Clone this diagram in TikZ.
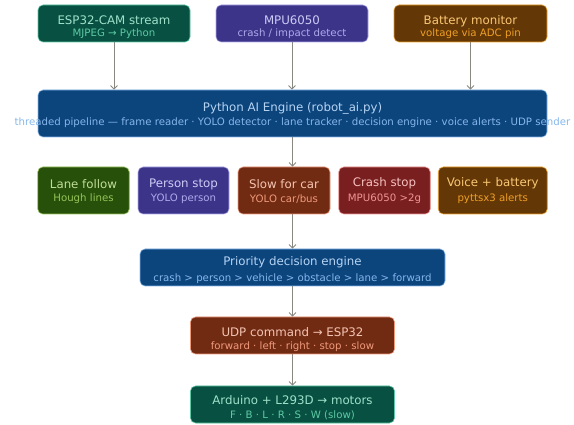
\documentclass[tikz,border=0pt]{standalone}
\usepackage{fontspec}
\setmainfont{DejaVu Sans}
\usetikzlibrary{arrows.meta}

\definecolor{tealfill}{HTML}{085041}
\definecolor{tealline}{HTML}{5DCAA5}
\definecolor{tealtext}{HTML}{9FE1CB}
\definecolor{purplefill}{HTML}{3C3489}
\definecolor{purpleline}{HTML}{AFA9EC}
\definecolor{purpletext}{HTML}{CECBF6}
\definecolor{amberfill}{HTML}{633806}
\definecolor{amberline}{HTML}{EF9F27}
\definecolor{ambertext}{HTML}{FAC775}
\definecolor{bluefill}{HTML}{0C447C}
\definecolor{blueline}{HTML}{85B7EB}
\definecolor{bluetext}{HTML}{B5D4F4}
\definecolor{greenfill}{HTML}{27500A}
\definecolor{greenline}{HTML}{97C459}
\definecolor{greentext}{HTML}{C0DD97}
\definecolor{coralfill}{HTML}{712B13}
\definecolor{coralline}{HTML}{F0997B}
\definecolor{coraltext}{HTML}{F5C4B3}
\definecolor{redfill}{HTML}{791F1F}
\definecolor{redline}{HTML}{F09595}
\definecolor{redtext}{HTML}{F7C1C1}
\definecolor{arrowgray}{HTML}{888780}

\tikzset{
  box/.style={draw, rounded corners=5pt, line width=0.6pt, inner sep=0pt},
  tealbox/.style={box, fill=tealfill, draw=tealline},
  purplebox/.style={box, fill=purplefill, draw=purpleline},
  amberbox/.style={box, fill=amberfill, draw=amberline},
  bluebox/.style={box, fill=bluefill, draw=blueline},
  greenbox/.style={box, fill=greenfill, draw=greenline},
  coralbox/.style={box, fill=coralfill, draw=coralline},
  redbox/.style={box, fill=redfill, draw=redline},
  boxtitle/.style={anchor=base, inner sep=0pt, font=\fontsize{11.8}{14}\selectfont},
  boxsub/.style={anchor=base, inner sep=0pt, font=\fontsize{10.2}{12}\selectfont},
  flow/.style={-{Straight Barb[length=3.5pt,width=7pt]}, draw=arrowgray, line width=0.9pt}
}

\begin{document}
\begin{tikzpicture}[x=1pt, y=-1pt]
\useasboundingbox (0,0) rectangle (574,425);
% inputs
\node [tealbox, minimum width=152pt, minimum height=37pt] (cam) at (114,23.5) {};
\node [boxtitle, text=tealtext] (camtitle) at (114,24.5) {ESP32-CAM stream};
\node [boxsub, text=tealline] (camsub) at (114,36.5) {MJPEG → Python};
\node [purplebox, minimum width=152pt, minimum height=37pt] (mpu) at (292,23.5) {};
\node [boxtitle, text=purpletext] (mputitle) at (292,24.5) {MPU6050};
\node [boxsub, text=purpleline] (mpusub) at (292,36.5) {crash / impact detect};
\node [amberbox, minimum width=153pt, minimum height=37pt] (bat) at (470.5,23.5) {};
\node [boxtitle, text=ambertext] (battitle) at (470.5,24.5) {Battery monitor};
\node [boxsub, text=amberline] (batsub) at (470.5,36.5) {voltage via ADC pin};
% engine
\node [bluebox, minimum width=509pt, minimum height=47pt] (ai) at (292.5,113.5) {};
\node [boxtitle, text=bluetext] (aititle) at (292.5,111.5) {Python AI Engine (robot\_ai.py)};
\node [boxsub, text=blueline] (aisub) at (292.5,126) {threaded pipeline — frame reader · YOLO detector · lane tracker · decision engine · voice alerts · UDP sender};
% behaviours
\node [greenbox, minimum width=91.5pt, minimum height=47pt] (lane) at (83.5,190.5) {};
\node [boxtitle, text=greentext] (lanetitle) at (83.5,188.5) {Lane follow};
\node [boxsub, text=greenline] (lanesub) at (83.5,202) {Hough lines};
\node [purplebox, minimum width=91pt, minimum height=47pt] (person) at (183.5,190.5) {};
\node [boxtitle, text=purpletext] (persontitle) at (183.5,187.5) {Person stop};
\node [boxsub, text=purpleline] (personsub) at (183.5,202) {YOLO person};
\node [coralbox, minimum width=92pt, minimum height=47pt] (slow) at (284,190.5) {};
\node [boxtitle, text=coraltext] (slowtitle) at (284,188.5) {Slow for car};
\node [boxsub, text=coralline] (slowsub) at (284,202.5) {YOLO car/bus};
\node [redbox, minimum width=91.5pt, minimum height=47pt] (crash) at (384.5,190.5) {};
\node [boxtitle, text=redtext] (crashtitle) at (384.5,187) {Crash stop};
\node [boxsub, text=redline] (crashsub) at (384.5,202) {MPU6050 >2g};
\node [amberbox, minimum width=109pt, minimum height=47pt] (voice) at (492.75,190.5) {};
\node [boxtitle, text=ambertext] (voicetitle) at (492.75,187) {Voice + battery};
\node [boxsub, text=amberline] (voicesub) at (492.75,202) {pyttsx3 alerts};
% output chain
\node [bluebox, minimum width=305pt, minimum height=37pt] (prio) at (292.5,267.5) {};
\node [boxtitle, text=bluetext] (priotitle) at (292.5,266) {Priority decision engine};
\node [boxsub, text=blueline] (priosub) at (292.5,281.5) {crash > person > vehicle > obstacle > lane > forward};
\node [coralbox, minimum width=204pt, minimum height=37pt] (udp) at (292.5,335.5) {};
\node [boxtitle, text=coraltext] (udptitle) at (292.5,337) {UDP command → ESP32};
\node [boxsub, text=coralline] (udpsub) at (292.5,350) {forward · left · right · stop · slow};
\node [tealbox, minimum width=204pt, minimum height=37pt] (ard) at (292.5,404.5) {};
\node [boxtitle, text=tealtext] (ardtitle) at (292.5,405) {Arduino + L293D → motors};
\node [boxsub, text=tealline] (ardsub) at (292.5,418) {F · B · L · R · S · W (slow)};

\draw [flow] (cam.south) -- (cam.south |- ai.north);
\draw [flow] (mpu.south) -- (mpu.south |- ai.north);
\draw [flow] (bat.south) -- (bat.south |- ai.north);
\draw [flow] (ai.south) -- (ai.south |- slow.north);
\draw [flow] (ai.south |- slow.south) -- (prio.north);
\draw [flow] (prio.south) -- (udp.north);
\draw [flow] (udp.south) -- (ard.north);
\end{tikzpicture}
\end{document}
